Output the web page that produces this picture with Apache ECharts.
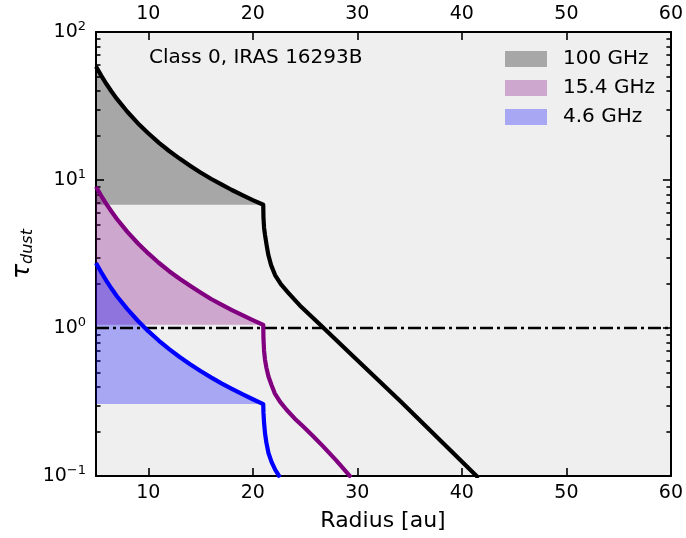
<!DOCTYPE html>
<html>
<head>
<meta charset="utf-8">
<script src="https://cdn.jsdelivr.net/npm/echarts@6/dist/echarts.min.js"></script>
<style>html,body{margin:0;padding:0;background:#fff}#c{width:686px;height:538px}</style>
</head>
<body>
<div id="c"></div>
<script>
// ---- data ----
var xTicks = [10, 20, 30, 40, 50, 60];
var yTicks = [0.1, 1, 10, 100];
var yMinor = [0.2,0.3,0.4,0.5,0.6,0.7,0.8,0.9,2,3,4,5,6,7,8,9,20,30,40,50,60,70,80,90];

// inner region (r <= 21 au), shared radii
var rInner = [5, 5.5, 6, 6.5, 7, 8, 9, 10, 11, 12, 13, 14, 15, 16, 17, 18, 19, 20, 21];
var tau100Inner = [58.5, 50.7, 44.5, 39.5, 35.3, 28.9, 24.2, 20.7, 17.9, 15.7, 13.95, 12.5, 11.25, 10.2, 9.33, 8.56, 7.9, 7.31, 6.8];
var tau154Inner = [9.0, 7.82, 6.87, 6.1, 5.45, 4.46, 3.74, 3.19, 2.76, 2.42, 2.15, 1.93, 1.74, 1.57, 1.44, 1.32, 1.22, 1.13, 1.05];
var tau46Inner  = [2.75, 2.38, 2.08, 1.84, 1.64, 1.34, 1.12, 0.952, 0.823, 0.72, 0.637, 0.569, 0.512, 0.464, 0.423, 0.388, 0.357, 0.33, 0.306];

// outer region (r > 21 au)
var r100Outer   = [21.0, 21.02, 21.08, 21.17, 21.32, 21.49, 21.75, 22.13, 22.7, 23.4, 24.5, 26.4, 29.3, 34.1, 38.9, 41.6];
var tau100Outer = [6.8, 5.6, 4.74, 4.25, 3.64, 3.11, 2.66, 2.28, 1.97, 1.73, 1.42, 1.06, 0.675, 0.321, 0.149, 0.097];
var r154Outer   = [21.0, 21.02, 21.08, 21.17, 21.3, 21.5, 21.8, 22.1, 22.6, 23.25, 24.0, 24.85, 25.8, 26.75, 28.0, 29.4];
var tau154Outer = [1.05, 0.85, 0.7, 0.61, 0.54, 0.47, 0.41, 0.362, 0.318, 0.279, 0.245, 0.215, 0.185, 0.158, 0.127, 0.098];
var r46Outer    = [21.0, 21.02, 21.08, 21.17, 21.3, 21.5, 21.8, 22.15, 22.6];
var tau46Outer  = [0.306, 0.268, 0.228, 0.194, 0.168, 0.143, 0.124, 0.11, 0.098];

var refLineX = [5, 60];
var refLineY = [1, 1];

var names = ['100 GHz', '15.4 GHz', '4.6 GHz'];

// ---- build ----
function pairs(xs, ys) { return xs.map(function (x, i) { return [x, ys[i]]; }); }

var fillColors = ['rgba(0,0,0,0.3)', 'rgba(128,0,128,0.3)', 'rgba(0,0,255,0.3)'];
var lineColors = ['#000000', '#800080', '#0000ff'];
var inner = [tau100Inner, tau154Inner, tau46Inner];
var outerX = [r100Outer, r154Outer, r46Outer];
var outerY = [tau100Outer, tau154Outer, tau46Outer];

var series = [];
inner.forEach(function (ys, k) {
  var base = ys[ys.length - 1];
  series.push({
    type: 'custom', name: names[k], z: 1 + k * 0.1,
    itemStyle: { color: fillColors[k] },
    data: [[rInner[0], base]],
    encode: { x: 0, y: 1 },
    silent: true,
    renderItem: function (params, api) {
      var pts = rInner.map(function (x, i) { return api.coord([x, ys[i]]); });
      pts.push(api.coord([rInner[rInner.length - 1], base]));
      pts.push(api.coord([rInner[0], base]));
      return { type: 'polygon', shape: { points: pts }, style: { fill: fillColors[k] } };
    }
  });
});
series.push({
  type: 'line', name: 'ref', data: pairs(refLineX, refLineY), showSymbol: false, z: 3,
  lineStyle: { color: '#000', width: 2.6, type: [13, 4, 3, 4] }, silent: true
});
inner.forEach(function (ys, k) {
  series.push({
    type: 'line', name: names[k] + ' line', z: 4,
    data: pairs(rInner, ys).concat(pairs(outerX[k], outerY[k])),
    showSymbol: false, clip: true, silent: true,
    lineStyle: { color: lineColors[k], width: 4.2, join: 'round' }
  });
});

var font = 'DejaVu Sans';
function xAx(pos) {
  return {
    type: 'value', min: 5, max: 60, position: pos,
    axisLine: { show: true, lineStyle: { color: '#000', width: 2 } },
    axisTick: { show: true, inside: true, length: 8, customValues: xTicks, lineStyle: { color: '#000', width: 1.6 } },
    axisLabel: { show: true, customValues: xTicks, fontSize: 19, color: '#000', fontFamily: font, margin: 8 },
    splitLine: { show: false }
  };
}
function yAx(pos, labels, minor) {
  return {
    type: 'log', logBase: 10, min: 0.1, max: 100, position: pos,
    axisLine: { show: !minor, lineStyle: { color: '#000', width: 2 } },
    axisTick: { show: true, inside: true, length: minor ? 4.5 : 8, customValues: minor ? yMinor : yTicks,
      lineStyle: { color: '#000', width: 1.6 } },
    axisLabel: {
      show: labels, customValues: yTicks, margin: 10, color: '#000',
      formatter: function (v) {
        var e = Math.round(Math.log10(v));
        return '{b|10}{s|' + (e < 0 ? '\u2212' + (-e) : e) + '}';
      },
      rich: {
        b: { fontSize: 19, fontFamily: font, color: '#000', lineHeight: 24, verticalAlign: 'middle' },
        s: { fontSize: 13, fontFamily: font, color: '#000', lineHeight: 14, verticalAlign: 'top' }
      }
    },
    splitLine: { show: false }
  };
}

var option = {
  animation: false,
  backgroundColor: '#ffffff',
  grid: { left: 96, right: 15, top: 32, bottom: 62, show: true, backgroundColor: '#efefef', borderWidth: 0 },
  xAxis: [xAx('bottom'), xAx('top')],
  yAxis: [yAx('left', true, false), yAx('right', false, false), yAx('left', false, true), yAx('right', false, true)],
  legend: {
    orient: 'vertical', left: 500, top: 44, itemWidth: 42, itemHeight: 16, itemGap: 9,
    selectedMode: false,
    textStyle: { fontSize: 20, fontFamily: font, color: '#000', padding: [0, 0, 0, 11] },
    data: names.map(function (n, k) { return { name: n, icon: 'rect', itemStyle: { color: fillColors[k] } }; })
  },
  graphic: [
    { type: 'text', x: 149, y: 57.5, style: { text: 'Class 0, IRAS 16293B', fontSize: 20, fontFamily: font, fill: '#000', align: 'left', verticalAlign: 'middle' } },
    { type: 'text', x: 383, y: 521, style: { text: 'Radius [au]', fontSize: 22, fontFamily: font, fill: '#000', align: 'center', verticalAlign: 'middle' } },
    { type: 'text', x: 22, y: 254, rotation: Math.PI / 2,
      style: { text: '{t|\u03c4}{d|dust}', align: 'center', verticalAlign: 'middle',
        rich: {
          t: { fontSize: 25, fontFamily: font, fontStyle: 'italic', fill: '#000', lineHeight: 28, verticalAlign: 'middle' },
          d: { fontSize: 16, fontFamily: font, fontStyle: 'italic', fill: '#000', lineHeight: 16, verticalAlign: 'bottom' }
        } } }
  ],
  series: series
};
var chart = echarts.init(document.getElementById('c'), null, { renderer: 'canvas' });
chart.setOption(option);
</script>
</body>
</html>
